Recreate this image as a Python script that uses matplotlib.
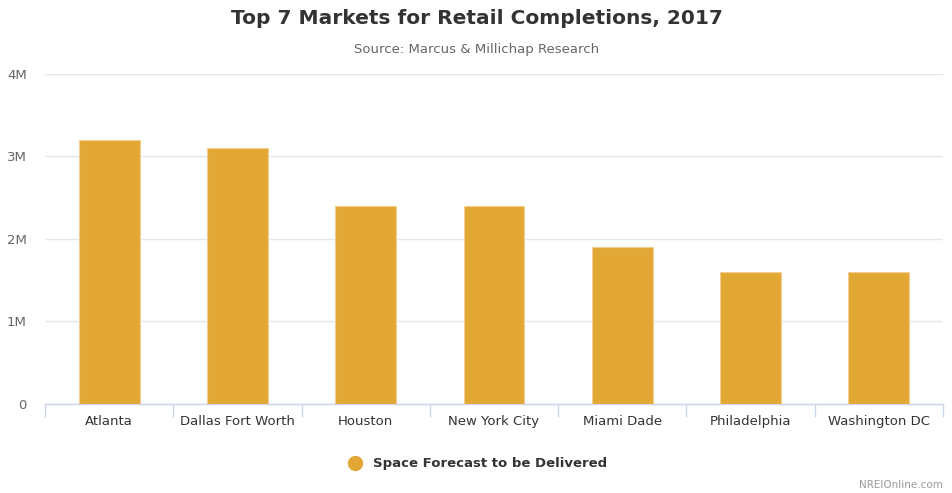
import matplotlib.pyplot as plt
from matplotlib.ticker import FuncFormatter

markets = ['Atlanta', 'Dallas Fort Worth', 'Houston', 'New York City',
           'Miami Dade', 'Philadelphia', 'Washington DC']
space_forecast = [3.2e6, 3.1e6, 2.4e6, 2.4e6, 1.9e6, 1.6e6, 1.6e6]
y_ticks = [0, 1e6, 2e6, 3e6, 4e6]

bar_color = '#e3a736'
text_color = '#333333'
label_color = '#666666'

fig = plt.figure(figsize=(9.53, 4.93), dpi=100)
ax = fig.add_axes([0.0472, 0.1805, 0.9423, 0.6695])

x = range(len(markets))
ax.bar(x, space_forecast, width=0.475, color=bar_color,
       edgecolor='#f0cf90', linewidth=0.8, zorder=3)

ax.set_xlim(-0.5, len(markets) - 0.5)
ax.set_ylim(0, 4e6)
ax.set_yticks(y_ticks)
ax.yaxis.set_major_formatter(
    FuncFormatter(lambda v, p: '0' if v == 0 else f'{int(v / 1e6)}M'))
ax.grid(axis='y', color='#e6e6e6', linewidth=1, zorder=0)

ax.set_xticks(list(x))
ax.set_xticklabels(markets)
ax.set_xticks([i - 0.5 for i in range(len(markets) + 1)], minor=True)
ax.tick_params(axis='x', which='major', length=0, pad=8,
               labelsize=9.5, labelcolor=text_color)
ax.tick_params(axis='x', which='minor', length=9, color='#ccd6eb', width=1)
ax.tick_params(axis='y', length=0, pad=13, labelsize=9.5,
               labelcolor=label_color)

for s in ['top', 'right', 'left']:
    ax.spines[s].set_visible(False)
ax.spines['bottom'].set_color('#ccd6eb')
ax.spines['bottom'].set_linewidth(1)

fig.text(0.5, 0.963, 'Top 7 Markets for Retail Completions, 2017',
         ha='center', va='center', fontsize=14.5, fontweight='bold',
         color=text_color)
fig.text(0.5, 0.9, 'Source: Marcus & Millichap Research',
         ha='center', va='center', fontsize=9.5, color=label_color)

# legend
fig.lines.append(plt.Line2D([355 / 953], [1 - 463 / 493], marker='o',
                            markersize=10, color=bar_color,
                            transform=fig.transFigure, linestyle='none'))
fig.text(373 / 953, 1 - 463 / 493, 'Space Forecast to be Delivered',
         ha='left', va='center', fontsize=9.5, fontweight='bold',
         color=text_color)

fig.text(943 / 953, 1 - 485 / 493, 'NREIOnline.com', ha='right',
         va='center', fontsize=7.5, color='#999999')

fig.savefig('out.png', dpi=100)
